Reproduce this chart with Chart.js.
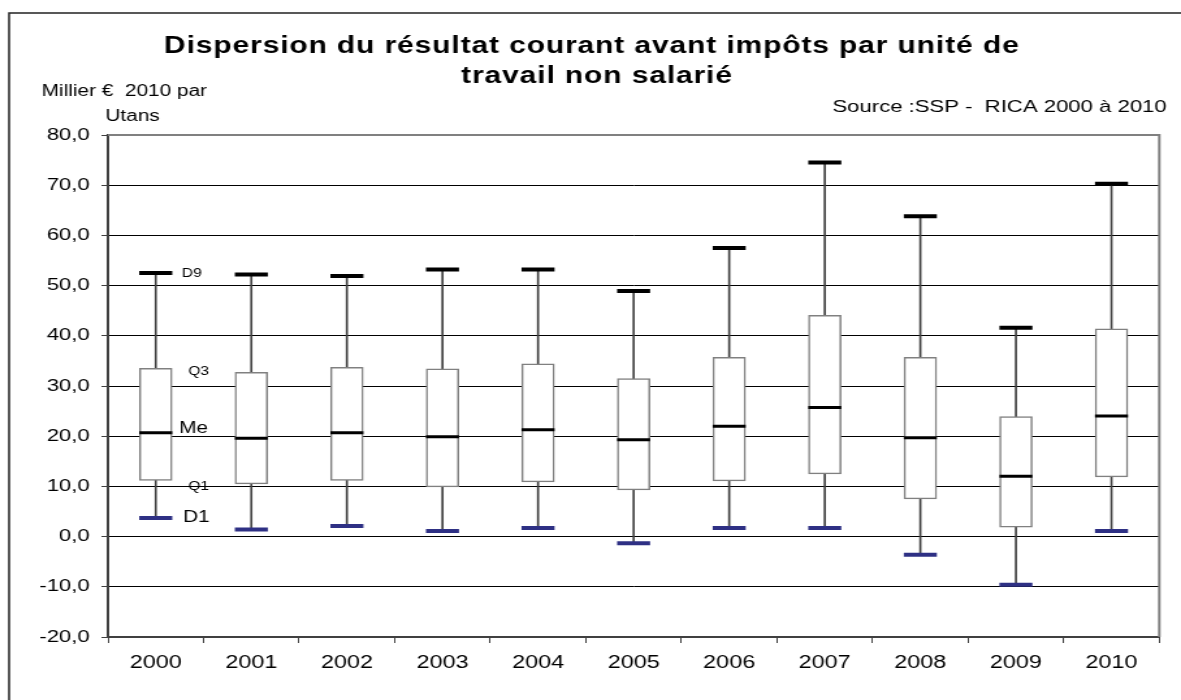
<!DOCTYPE html>
<html>
<head>
<meta charset="utf-8">
<script src="https://cdn.jsdelivr.net/npm/chart.js@4/dist/chart.umd.min.js"></script>
<style>
  body { margin: 0; background: #fff; }
  /* the source picture is stretched horizontally, so the canvas is too */
  #c { width: 1181px !important; height: 700px !important; display: block; }
</style>
</head>
<body>
<canvas id="c" width="908" height="700" style="width:1181px;height:700px"></canvas>
<script>
// years on the x axis
const years = ['2000', '2001', '2002', '2003', '2004', '2005', '2006', '2007', '2008', '2009', '2010'];

// deciles / quartiles, k€ 2010 per Utans
const d1 = [3.7, 1.4, 2.1, 1.1, 1.7, -1.3, 1.7, 1.7, -3.6, -9.6, 1.1];
const q1 = [11.2, 10.5, 11.2, 9.9, 10.9, 9.3, 11.1, 12.5, 7.5, 1.9, 11.9];
const med = [20.7, 19.6, 20.7, 19.9, 21.3, 19.3, 22.0, 25.7, 19.7, 12.0, 24.0];
const q3 = [33.5, 32.7, 33.7, 33.4, 34.4, 31.5, 35.7, 44.1, 35.7, 23.9, 41.4];
const d9 = [52.5, 52.2, 51.9, 53.2, 53.2, 48.9, 57.5, 74.5, 63.8, 41.6, 70.3];

const titleLines = ['Dispersion du résultat courant avant impôts par unité de', 'travail non salarié'];
const unitLines = ['Millier €  2010 par', 'Utans'];
const sourceText = 'Source :SSP -  RICA 2000 à 2010';

const FONT = '"Liberation Sans", Arial, sans-serif';

// titles, frame and the D9/Q3/Me/Q1/D1 captions next to the first box
const deco = {
  id: 'deco',
  beforeDatasetsDraw(chart) {
    const { ctx, chartArea: a } = chart;
    ctx.save();
    ctx.strokeStyle = '#808080';
    ctx.lineWidth = 2;
    ctx.beginPath();
    ctx.moveTo(a.left, a.top);
    ctx.lineTo(a.right, a.top);
    ctx.lineTo(a.right, a.bottom);
    ctx.stroke();
    ctx.restore();
  },
  afterDraw(chart) {
    const { ctx, scales: { x, y } } = chart;
    ctx.save();
    // outer frame (only left & top visible)
    ctx.strokeStyle = '#222';
    ctx.lineWidth = 1.5;
    ctx.beginPath();
    ctx.moveTo(7, 700);
    ctx.lineTo(7, 13);
    ctx.lineTo(908, 13);
    ctx.stroke();

    ctx.fillStyle = '#000';
    ctx.textBaseline = 'middle';

    ctx.font = 'bold 23px ' + FONT;
    ctx.textAlign = 'center';
    ctx.letterSpacing = '0.7px';
    ctx.fillText(titleLines[0], 455, 47);
    ctx.fillText(titleLines[1], 459, 77);
    ctx.letterSpacing = '0px';

    ctx.font = '16px ' + FONT;
    ctx.textAlign = 'left';
    ctx.fillText(unitLines[0], 32, 92);
    ctx.fillText(unitLines[1], 81, 117);

    ctx.font = '17px ' + FONT;
    ctx.textAlign = 'right';
    ctx.fillText(sourceText, 897, 107);

    // captions for first box
    const cx = x.getPixelForValue(0);
    ctx.textAlign = 'left';
    ctx.font = '12px ' + FONT;
    ctx.fillText('D9', cx + 20, y.getPixelForValue(d9[0]) + 1);
    ctx.fillText('Q3', cx + 25, y.getPixelForValue(q3[0]) + 3);
    ctx.fillText('Q1', cx + 25, y.getPixelForValue(q1[0]) + 6);
    ctx.font = '16px ' + FONT;
    ctx.fillText('Me', cx + 18, y.getPixelForValue(med[0]) - 4);
    ctx.fillText('D1', cx + 21, y.getPixelForValue(d1[0]));
    ctx.restore();
  }
};

const capStyle = (color, width) => ({
  type: 'line',
  showLine: false,
  pointStyle: 'line',
  pointRadius: 12.7,
  pointBorderWidth: width,
  pointBorderColor: color,
  pointBackgroundColor: color,
  order: 1
});

new Chart(document.getElementById('c'), {
  type: 'bar',
  data: {
    labels: years,
    datasets: [
      {
        label: 'D1-D9',
        data: years.map((_, i) => [d1[i], d9[i]]),
        backgroundColor: '#404040',
        barThickness: 1,
        grouped: false,
        order: 3
      },
      {
        label: 'Q1-Q3',
        data: years.map((_, i) => [q1[i], q3[i]]),
        backgroundColor: '#ffffff',
        borderColor: '#808080',
        borderWidth: 1.5,
        borderSkipped: false,
        barThickness: 25,
        grouped: false,
        order: 2
      },
      { label: 'Me', data: med, ...capStyle('#000000', 3) },
      { label: 'D9', data: d9, ...capStyle('#000000', 4) },
      { label: 'D1', data: d1, ...capStyle('#2e3084', 4) }
    ]
  },
  options: {
    responsive: false,
    animation: false,
    events: [],
    layout: { padding: { top: 135, right: 12, bottom: 0, left: 0 } },
    plugins: { legend: { display: false }, tooltip: { enabled: false } },
    scales: {
      x: {
        afterFit: s => { s.height = 63; },
        grid: { offset: true, drawOnChartArea: false, drawTicks: true, tickLength: 6, tickColor: '#404040' },
        border: { color: '#404040', width: 2 },
        ticks: { color: '#000', font: { family: FONT, size: 18 }, padding: 9, maxRotation: 0, autoSkip: false }
      },
      y: {
        min: -20,
        max: 80,
        afterFit: s => { s.width = 83; },
        grid: { color: '#000', lineWidth: 1, tickLength: 5, tickColor: '#404040' },
        border: { color: '#404040', width: 2 },
        ticks: {
          stepSize: 10,
          color: '#000',
          font: { family: FONT, size: 17 },
          padding: 9,
          callback: v => v.toFixed(1).replace('.', ',')
        }
      }
    }
  },
  plugins: [deco]
});
</script>
</body>
</html>
